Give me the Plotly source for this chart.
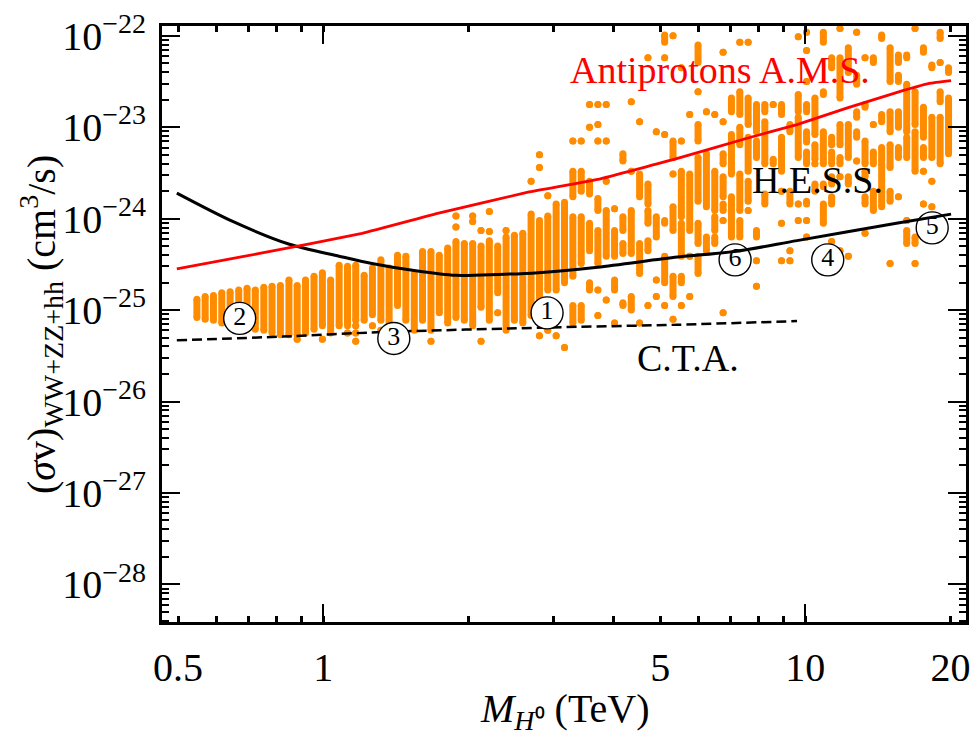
import plotly.graph_objects as go

# ---------------------------------------------------------------------------
# Parameter-scan points: dark-matter mass M_H0 (TeV) for each scan column,
# and log10 of <sigma v>_(WW+ZZ+hh) in cm^3/s.  A tuple (top, bottom) is a
# tightly packed stack of points, a float is a single point.
# ---------------------------------------------------------------------------
scan_mass = [
    0.547, 0.569, 0.592, 0.616, 0.641, 0.668, 0.695, 0.723, 0.753, 0.783,
    0.815, 0.849, 0.883, 0.919, 0.957, 0.996, 1.036, 1.079, 1.123, 1.168,
    1.216, 1.265, 1.317, 1.370, 1.426, 1.484, 1.545, 1.607, 1.673, 1.741,
    1.812, 1.885, 1.962, 2.042, 2.125, 2.211, 2.301, 2.395, 2.492, 2.594,
    2.699, 2.809, 2.923, 3.042, 3.166, 3.295, 3.429, 3.568, 3.713, 3.864,
    4.021, 4.185, 4.355, 4.532, 4.716, 4.908, 5.108, 5.316, 5.532, 5.757,
    5.991, 6.235, 6.489, 6.753, 7.027, 7.313, 7.611, 7.920, 8.242, 8.578,
    8.926, 9.290, 9.668, 10.06, 10.47, 10.90, 11.34, 11.80, 12.28, 12.78,
    13.30, 13.84, 14.40, 14.99, 15.60, 16.23, 16.89, 17.58, 18.30, 19.04,
    19.82,
]

scan_log_sv = [
    [(-24.88, -25.08)],
    [(-24.85, -25.10)],
    [(-24.84, -25.11)],
    [(-24.81, -25.14)],
    [(-24.80, -25.16)],
    [(-24.78, -25.14)],
    [(-24.76, -25.21)],
    [(-24.78, -25.21)],
    [(-24.75, -25.22)],
    [(-24.74, -25.25)],
    [(-24.73, -25.27)],
    [(-24.67, -25.27)],
    [(-24.73, -25.27), -25.32],
    [(-24.67, -25.25)],
    [(-24.63, -25.21)],
    [(-24.59, -25.17), -25.32],
    [(-24.67, -25.25)],
    [(-24.51, -25.17)],
    [(-24.52, -25.17), -25.25],
    [(-24.51, -25.11), -25.17, -25.25, -25.34],
    [(-24.62, -25.11)],
    [(-24.54, -25.05), -25.17],
    [(-24.45, -25.11), -25.22],
    [(-24.54, -25.17)],
    [(-24.40, -24.95)],
    [(-24.41, -25.11)],
    [(-24.60, -25.22)],
    [(-24.36, -25.11)],
    [(-24.36, -25.22), -25.34],
    [(-24.40, -25.03)],
    [(-24.32, -25.14)],
    [-23.97, -24.09, (-24.25, -25.08)],
    [(-24.27, -25.11)],
    [-23.97, -24.03, (-24.27, -25.17)],
    [-24.13, (-24.30, -24.97), -25.34],
    [-23.92, -24.14, (-24.24, -25.11)],
    [(-24.30, -24.81), -25.03],
    [-24.13, (-24.20, -25.22)],
    [(-24.18, -25.11)],
    [(-24.16, -25.14)],
    [-23.59, (-23.95, -25.06)],
    [-23.30, -23.44, (-24.02, -24.92), -25.28],
    [-23.75, (-23.97, -24.78), -25.22],
    [(-23.84, -24.78), -25.28],
    [(-23.82, -24.70), -25.41],
    [-23.15, (-23.48, -23.76), (-23.98, -24.63), (-24.95, -25.14)],
    [-23.15, (-23.48, -23.70), (-23.98, -24.49), (-24.95, -25.11)],
    [-22.75, -23.00, (-23.59, -23.73), (-24.05, -24.35), (-24.70, -24.78)],
    [-22.75, -22.97, -23.15, (-23.78, -23.91), (-24.13, -24.49), -24.78, -25.06],
    [-22.75, -23.15, -23.59, (-23.91, -24.41), -24.89],
    [-23.89, (-24.13, -24.41), (-24.67, -24.78), -25.14],
    [(-23.29, -23.37), (-23.98, -24.13), (-24.27, -24.38), (-24.92, -24.95)],
    [-22.72, -23.48, (-23.91, -24.38), (-24.85, -25.00)],
    [-22.94, (-23.51, -23.76), (-24.27, -24.60), -25.14],
    [-22.24, (-23.62, -23.84), (-23.91, -24.05), (-24.24, -24.35), -24.95],
    [-23.05, (-23.98, -24.20), -24.67, -24.85],
    [(-21.99, -22.07), -22.24, -23.08, (-24.02, -24.05), (-24.41, -24.70), -24.95],
    [-22.00, (-23.15, -23.33), -23.51, (-23.87, -24.13), (-24.63, -24.85), -25.10],
    [-22.35, -23.15, (-23.48, -23.98), (-24.05, -24.41), (-24.63, -24.70), -24.95],
    [-22.86, (-23.51, -24.13), -24.41, -24.85],
    [(-22.10, -22.29), -22.61, (-22.97, -23.15), (-23.33, -23.81), (-24.05, -24.27), (-24.41, -24.60)],
    [-22.83, (-23.29, -23.87), (-24.20, -24.35)],
    [-22.86, (-23.48, -23.91), (-23.98, -24.13), (-24.20, -24.27)],
    [-22.18, -22.94, (-23.29, -23.40), (-23.54, -23.76), (-23.84, -23.91), -24.02, -25.03],
    [(-22.68, -22.83), (-23.08, -23.51), (-23.76, -24.20)],
    [-22.07, (-22.61, -22.86), (-23.00, -23.19), (-23.51, -23.91), (-24.02, -24.20)],
    [-22.07, (-22.68, -22.97), (-23.11, -23.48), (-23.59, -23.81), -23.91],
    [(-22.75, -23.05), (-23.15, -23.33), (-24.13, -24.20), -24.46, -24.74],
    [(-22.75, -22.83), (-22.94, -23.40), (-23.73, -23.84)],
    [-22.75, (-23.35, -23.40)],
    [(-22.75, -22.86), (-23.11, -23.48), -23.70, -24.05, -24.46],
    [(-22.97, -23.05), (-23.70, -23.84), -24.35, -24.46],
    [-22.01, (-22.64, -22.83), (-22.89, -23.33), -23.84, -24.02],
    [-21.96, -22.16, -22.50, (-22.75, -22.83), (-23.05, -23.16), (-23.27, -23.40), (-23.81, -23.84), -24.02, -24.20],
    [(-22.68, -23.08), (-23.19, -23.35), -23.40, (-23.62, -23.70)],
    [(-21.96, -22.07), (-22.61, -22.64), (-23.05, -23.40), (-23.62, -23.65), (-23.84, -24.05)],
    [(-22.24, -22.35), (-23.11, -23.19), (-23.27, -23.40), (-23.54, -23.62), (-23.76, -23.84), -24.25, -24.43],
    [-21.92, (-22.24, -22.68), (-22.97, -23.19), (-23.33, -23.40), -23.54, -24.35],
    [(-22.13, -22.40), (-22.97, -23.33), (-23.54, -23.62), -24.41],
    [-21.96, (-22.43, -22.53), (-22.83, -22.89), (-23.05, -23.11), -23.37],
    [-22.24, (-22.75, -22.78), (-23.15, -23.40), (-23.48, -23.54), (-23.76, -23.84), -24.16],
    [(-22.24, -22.29), -22.97, (-23.27, -23.40), (-23.70, -23.91)],
    [(-21.99, -22.03), (-22.86, -22.94), (-23.22, -23.37), (-23.40, -23.87)],
    [(-22.13, -22.50), (-22.83, -23.05), (-23.19, -23.44), (-23.70, -23.81), -24.49],
    [(-22.21, -22.29), (-22.43, -22.50), (-22.83, -23.00), (-23.22, -23.33), -23.76],
    [(-22.21, -22.24), (-22.53, -23.05), (-23.11, -23.33), -24.02, (-24.13, -24.27)],
    [-21.92, (-22.61, -22.97), (-23.05, -23.48), (-24.20, -24.27), -24.49],
    [(-22.13, -22.18), (-22.78, -23.11), (-23.22, -23.33), -23.48, -23.84],
    [(-22.32, -22.35), (-22.89, -23.33), -23.59, -23.87],
    [(-21.96, -22.03), -22.29, (-22.61, -22.72), (-22.89, -23.40)],
    [(-22.35, -22.40), (-22.68, -23.29)],
]

# Antiproton (AMS) upper limit
ams_mass = [0.497, 0.738, 1.204, 1.735, 2.66, 3.71, 5.43, 7.57, 9.61, 12.18, 15.45, 18.07, 20.06]
ams_log_sv = [-24.55, -24.38, -24.16, -23.94, -23.71, -23.57, -23.34, -23.12, -22.97, -22.79,
              -22.62, -22.52, -22.49]

# H.E.S.S. gamma-ray limit
hess_mass = [0.497, 0.649, 0.851, 1.079, 1.262, 1.556, 1.882, 2.308, 2.792, 3.71, 5.43, 7.12,
             9.61, 15.45, 20.06]
hess_log_sv = [-23.72, -24.03, -24.28, -24.41, -24.49, -24.57, -24.62, -24.61, -24.59, -24.53,
               -24.42, -24.36, -24.24, -24.05, -23.95]

# C.T.A. projected sensitivity
cta_mass = [0.497, 0.823, 1.324, 2.93, 5.43, 9.61]
cta_log_sv = [-25.33, -25.29, -25.24, -25.19, -25.16, -25.12]

# Numbered benchmark points
bench_label = ["1", "2", "3", "4", "5", "6"]
bench_mass = [2.913, 0.671, 1.401, 11.13, 18.33, 7.15]
bench_log_sv = [-25.03, -25.09, -25.31, -24.45, -24.10, -24.45]

# ---------------------------------------------------------------------------
SERIF = "Liberation Serif, Times New Roman, serif"
ORANGE = "#ff8c00"
X_RANGE = [-0.3344, 1.3333]
Y_RANGE = [-28.412, -21.892]


def pw(v):
    return 10.0 ** v


# stacks of scan points become short vertical strokes of marker width
seg_x, seg_y = [], []
for m, runs in zip(scan_mass, scan_log_sv):
    for r in runs:
        top, bot = (r, r) if isinstance(r, float) else r
        seg_x += [m, m, None]
        seg_y += [pw(top), pw(bot), None]

fig = go.Figure()

fig.add_trace(go.Scatter(
    x=seg_x, y=seg_y, mode="lines+markers", connectgaps=False,
    line=dict(color=ORANGE, width=7),
    marker=dict(color=ORANGE, size=7, line=dict(width=0)),
    hoverinfo="skip",
))

fig.add_trace(go.Scatter(
    x=cta_mass, y=[pw(v) for v in cta_log_sv], mode="lines",
    line=dict(color="black", width=2.5, dash="10px,5px", shape="spline", smoothing=0.6),
))

fig.add_trace(go.Scatter(
    x=bench_mass, y=[pw(v) for v in bench_log_sv], mode="markers+text",
    text=bench_label, textposition="middle center",
    textfont=dict(family=SERIF, size=26, color="black"),
    marker=dict(symbol="circle", size=32, color="white", line=dict(color="black", width=1.4)),
))

fig.add_trace(go.Scatter(
    x=hess_mass, y=[pw(v) for v in hess_log_sv], mode="lines",
    line=dict(color="black", width=3, shape="spline", smoothing=0.8),
))

fig.add_trace(go.Scatter(
    x=ams_mass, y=[pw(v) for v in ams_log_sv], mode="lines", xaxis="x2",
    line=dict(color="#ff0000", width=2.8, shape="spline", smoothing=0.3),
))

y_major = [1e-28, 1e-27, 1e-26, 1e-25, 1e-24, 1e-23, 1e-22]
y_text = ["10<sup>−%d</sup>" % e for e in (28, 27, 26, 25, 24, 23, 22)]
y_minor = [d * 10.0 ** e for e in range(-29, -21) for d in range(2, 10)]

fig.update_layout(
    width=978, height=738,
    margin=dict(l=162, r=8, t=21, b=116),
    paper_bgcolor="white", plot_bgcolor="white",
    showlegend=False,
    font=dict(family=SERIF, color="black"),
    xaxis=dict(
        type="log", range=X_RANGE,
        tickvals=[0.5, 1, 5, 10, 20], ticktext=["0.5", "1", "5", "10", "20"],
        ticks="inside", ticklen=6, tickwidth=2.5, tickcolor="black",
        tickfont=dict(family=SERIF, size=40, color="black"),
        ticklabelstandoff=8,
        showline=True, linewidth=3, linecolor="black", mirror="ticks",
        showgrid=False, zeroline=False,
        minor=dict(tickvals=[0.6, 0.7, 0.8, 0.9, 2, 3, 4, 6, 7, 8, 9],
                   ticks="inside", ticklen=6, tickwidth=2.5, tickcolor="black",
                   showgrid=False),
    ),
    xaxis2=dict(
        type="log", range=X_RANGE, overlaying="x", anchor="y", side="bottom",
        tickvals=[1, 10], ticks="inside", ticklen=18, tickwidth=1.8, tickcolor="black",
        showticklabels=False, showline=False, mirror="ticks",
        showgrid=False, zeroline=False,
    ),
    yaxis=dict(
        type="log", range=Y_RANGE,
        tickvals=y_major, ticktext=y_text,
        ticks="inside", ticklen=18, tickwidth=2, tickcolor="black",
        tickfont=dict(family=SERIF, size=40, color="black"),
        ticklabelstandoff=5,
        showline=True, linewidth=3, linecolor="black", mirror="ticks",
        showgrid=False, zeroline=False,
        minor=dict(tickvals=y_minor, ticks="inside", ticklen=7, tickwidth=2,
                   tickcolor="black", showgrid=False),
    ),
    annotations=[
        dict(text="Antiprotons A.M.S.", x=0.8235, y=-22.37, xref="x", yref="y",
             showarrow=False, font=dict(family=SERIF, size=38, color="#ff0000")),
        dict(text="H.E.S.S.", x=1.0258, y=-23.58, xref="x", yref="y",
             showarrow=False, font=dict(family=SERIF, size=38, color="black")),
        dict(text="C.T.A.", x=0.7575, y=-25.52, xref="x", yref="y",
             showarrow=False, font=dict(family=SERIF, size=38, color="black")),
        dict(text="(<i>σ</i>v)<sub>WW+ZZ+hh</sub> (cm<sup>3</sup>/s)",
             x=-0.1505, y=0.5, xref="paper", yref="paper", textangle=-90,
             xanchor="center", yanchor="middle", showarrow=False,
             font=dict(family=SERIF, size=40, color="black")),
        dict(text="<i>M</i><sub><i>H</i>⁰</sub> (TeV)",
             x=0.5, y=-0.1498, xref="paper", yref="paper",
             xanchor="center", yanchor="middle", showarrow=False,
             font=dict(family=SERIF, size=40, color="black")),
    ],
)

fig.write_html("out.html")
